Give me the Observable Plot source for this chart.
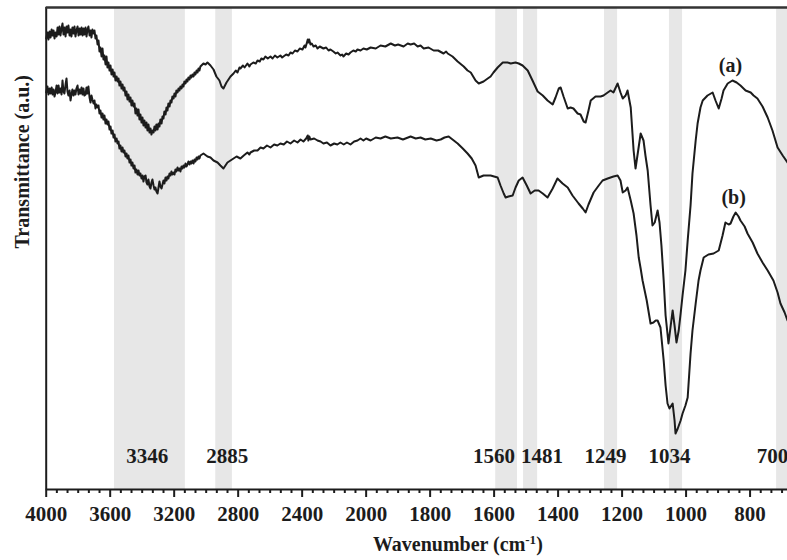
<!DOCTYPE html>
<html>
<head>
<meta charset="utf-8">
<script src="https://cdn.jsdelivr.net/npm/d3@7"></script>
<script src="https://cdn.jsdelivr.net/npm/@observablehq/plot@0.6"></script>
<style>
  html, body { margin: 0; padding: 0; background: #fff; }
</style>
</head>
<body>
<div id="chart"></div>
<script>
// FTIR spectra, [wavenumber (cm-1), transmittance (a.u.)]
const spectrumA = [
  [4000,90.2],[3992,91.4],[3986,90.0],[3979,91.6],[3973,90.4],[3966,92.0],[3960,90.8],[3954,91.8],
  [3948,90.2],[3942,91.4],[3935,90.6],[3929,92.4],[3923,91.0],[3917,92.6],[3911,90.8],[3904,92.2],
  [3898,93.2],[3892,91.0],[3886,92.4],[3879,90.6],[3873,92.6],[3867,91.4],[3861,92.8],[3854,90.8],
  [3848,92.0],[3842,90.6],[3836,92.4],[3829,91.2],[3823,92.6],[3817,90.6],[3811,91.8],[3804,92.6],
  [3798,90.8],[3792,92.2],[3786,91.0],[3779,92.4],[3773,90.8],[3767,92.2],[3761,91.0],[3754,92.4],
  [3748,90.6],[3742,92.0],[3736,92.6],[3729,90.8],[3723,91.8],[3717,90.4],[3711,92.0],[3704,91.2],
  [3698,91.8],[3692,90.2],[3686,90.8],[3679,89.0],[3673,89.8],[3667,87.6],[3661,88.4],[3654,86.6],
  [3648,88.2],[3642,86.0],[3636,86.8],[3629,85.0],[3623,86.6],[3617,84.4],[3611,85.4],[3604,83.8],
  [3598,84.8],[3592,83.0],[3585,84.0],[3579,82.6],[3573,83.4],[3567,81.8],[3560,82.6],[3554,81.6],
  [3548,82.2],[3542,80.8],[3536,81.6],[3529,80.2],[3523,81.0],[3517,79.8],[3511,80.4],[3504,78.8],
  [3498,79.6],[3492,78.0],[3486,79.0],[3479,77.6],[3473,78.4],[3467,76.8],[3461,77.8],[3454,76.6],
  [3448,77.2],[3442,75.2],[3436,76.2],[3429,74.8],[3423,76.0],[3417,74.0],[3411,75.0],[3404,73.4],
  [3398,74.4],[3392,72.8],[3386,73.8],[3379,72.4],[3373,73.4],[3367,71.8],[3361,73.0],[3354,71.4],
  [3348,72.2],[3342,71.0],[3336,71.8],[3329,71.4],[3323,72.6],[3317,71.8],[3311,73.0],[3304,72.0],
  [3298,73.2],[3292,72.6],[3286,74.0],[3279,73.2],[3273,74.6],[3267,74.2],[3261,75.6],[3254,75.0],
  [3248,76.4],[3242,75.8],[3236,77.2],[3229,76.6],[3223,77.8],[3217,77.4],[3211,78.6],[3204,78.2],
  [3198,79.2],[3192,78.6],[3186,79.8],[3179,79.4],[3173,80.2],[3167,79.8],[3161,80.6],[3154,80.2],
  [3148,81.0],[3142,80.6],[3136,81.6],[3129,81.2],[3123,82.0],[3117,81.6],[3111,82.4],[3104,82.0],
  [3098,82.8],[3092,82.4],[3086,83.0],[3079,82.6],[3073,83.4],[3067,83.0],[3060,83.8],[3054,83.4],
  [3048,84.2],[3042,83.8],[3036,84.6],[3017,85.2],[3004,85.0],[2992,85.4],[2973,84.8],[2954,84.0],
  [2936,82.6],[2917,81.8],[2904,80.6],[2892,80.2],[2873,81.4],[2848,82.6],[2829,83.2],[2815,83.8],
  [2804,83.4],[2792,84.4],[2786,84.2],[2770,84.8],[2760,84.4],[2742,85.2],[2730,84.6],[2723,85.0],
  [2705,85.4],[2690,85.2],[2679,85.8],[2665,85.6],[2655,86.2],[2642,86.0],[2630,86.6],[2615,86.2],
  [2598,86.6],[2585,86.2],[2570,86.8],[2555,86.4],[2536,86.8],[2525,86.4],[2517,86.6],[2500,87.0],
  [2485,86.8],[2473,87.4],[2460,87.2],[2445,87.8],[2429,87.6],[2415,88.2],[2398,88.0],[2385,88.8],
  [2379,88.4],[2370,89.4],[2365,90.0],[2361,89.4],[2356,90.0],[2348,89.0],[2340,89.2],[2329,88.6],
  [2315,88.8],[2304,88.2],[2290,88.6],[2267,88.2],[2250,88.4],[2235,87.8],[2223,88.0],[2205,87.6],
  [2190,87.2],[2179,87.4],[2160,86.8],[2150,87.0],[2142,86.6],[2125,87.2],[2110,87.0],[2098,87.4],
  [2080,87.8],[2065,87.6],[2054,88.0],[2035,87.8],[2017,88.2],[1998,88.0],[1986,88.4],[1970,88.2],
  [1955,88.8],[1940,88.6],[1923,89.2],[1910,88.8],[1900,89.0],[1883,88.6],[1870,89.2],[1861,89.0],
  [1850,89.2],[1839,88.6],[1830,88.8],[1820,88.2],[1805,88.4],[1789,87.8],[1775,87.8],[1758,87.2],
  [1750,87.6],[1745,87.2],[1730,86.6],[1714,85.6],[1695,84.6],[1683,83.8],[1673,83.4],[1658,81.8],
  [1648,81.2],[1633,81.6],[1620,82.2],[1611,82.6],[1602,83.4],[1589,84.4],[1573,85.4],[1558,85.4],
  [1548,85.2],[1533,85.4],[1523,85.2],[1511,84.8],[1495,83.8],[1480,81.8],[1464,79.6],[1448,78.8],
  [1433,77.8],[1417,77.0],[1408,78.4],[1398,80.2],[1392,80.4],[1383,78.6],[1370,76.2],[1361,76.4],
  [1352,76.2],[1339,75.2],[1330,75.0],[1320,73.6],[1314,73.4],[1305,75.8],[1298,77.8],[1283,78.6],
  [1267,78.6],[1258,78.8],[1245,79.4],[1236,79.8],[1227,79.4],[1214,81.2],[1205,79.4],[1198,78.2],
  [1189,78.8],[1183,79.8],[1173,76.4],[1164,67.8],[1158,64.2],[1152,66.8],[1142,71.2],[1133,69.8],
  [1127,66.8],[1120,63.8],[1111,56.8],[1105,52.8],[1098,53.4],[1089,55.8],[1083,53.4],[1077,48.8],
  [1070,41.8],[1064,34.8],[1055,29.2],[1048,32.8],[1042,35.8],[1036,32.8],[1030,29.4],[1023,31.8],
  [1017,35.2],[1011,38.8],[1002,43.8],[995,49.8],[986,56.8],[980,63.2],[970,69.8],[964,73.2],
  [955,76.4],[948,77.8],[933,78.8],[917,79.4],[908,77.8],[898,76.2],[889,78.2],[883,79.8],
  [870,81.2],[855,81.8],[842,81.4],[830,80.8],[814,79.8],[798,79.4],[789,78.8],[777,78.2],
  [761,76.6],[745,74.4],[730,71.8],[714,68.4],[698,66.8],[683,65.4]
];

const spectrumB = [
  [4000,79.4],[3992,80.6],[3986,79.0],[3979,80.2],[3973,79.2],[3966,80.4],[3960,79.0],[3954,80.0],
  [3948,78.6],[3942,79.4],[3935,80.8],[3929,79.2],[3923,80.8],[3917,79.4],[3911,80.2],[3904,79.0],
  [3898,81.8],[3892,79.6],[3886,79.2],[3879,81.0],[3873,82.2],[3867,79.6],[3861,78.8],[3854,79.8],
  [3848,77.8],[3842,79.0],[3836,80.0],[3829,78.8],[3823,79.8],[3817,79.0],[3811,80.2],[3804,80.8],
  [3798,79.0],[3792,80.0],[3786,79.2],[3779,80.4],[3773,79.0],[3767,80.2],[3761,78.8],[3754,79.0],
  [3748,80.4],[3742,79.2],[3736,80.6],[3729,78.4],[3723,77.4],[3717,78.8],[3711,78.0],[3704,77.2],
  [3698,77.8],[3692,76.2],[3686,77.0],[3679,76.4],[3673,76.8],[3667,75.2],[3661,75.8],[3654,74.4],
  [3648,75.2],[3642,74.0],[3636,74.8],[3629,73.2],[3623,74.0],[3617,73.0],[3611,73.6],[3604,72.0],
  [3598,72.6],[3592,71.2],[3585,71.8],[3579,70.4],[3573,71.0],[3567,69.6],[3560,70.2],[3554,69.2],
  [3548,69.6],[3542,68.2],[3536,68.8],[3529,67.6],[3523,68.4],[3517,67.4],[3511,67.8],[3504,66.6],
  [3498,67.2],[3492,66.2],[3486,66.8],[3479,65.4],[3473,66.0],[3467,64.8],[3461,65.4],[3454,64.2],
  [3448,64.8],[3442,63.4],[3436,64.0],[3429,63.0],[3423,63.8],[3417,62.8],[3411,63.2],[3404,62.2],
  [3398,62.8],[3392,61.6],[3386,62.6],[3379,62.8],[3373,61.4],[3367,61.0],[3361,62.0],[3354,60.6],
  [3348,60.2],[3342,61.4],[3336,62.0],[3329,60.8],[3323,60.0],[3317,60.4],[3311,59.6],[3304,59.2],
  [3298,60.4],[3292,61.6],[3286,60.6],[3279,60.2],[3273,61.0],[3267,61.8],[3261,61.2],[3254,62.4],
  [3248,61.8],[3242,62.6],[3236,62.2],[3229,63.2],[3223,62.8],[3217,63.6],[3211,63.0],[3204,63.4],
  [3198,63.0],[3192,64.0],[3186,63.6],[3179,64.4],[3173,63.8],[3167,64.2],[3161,63.6],[3154,64.6],
  [3148,64.2],[3142,64.8],[3136,64.4],[3129,65.2],[3123,64.6],[3117,65.0],[3111,65.6],[3104,65.0],
  [3098,65.6],[3092,65.2],[3086,65.8],[3079,65.2],[3073,66.0],[3067,65.6],[3060,66.4],[3054,66.0],
  [3048,66.6],[3042,66.2],[3036,66.8],[3017,67.2],[2992,66.6],[2973,66.4],[2954,65.8],[2929,65.4],
  [2911,64.8],[2892,64.2],[2867,65.4],[2848,65.8],[2829,66.2],[2810,66.6],[2786,66.2],[2765,66.8],
  [2742,67.4],[2730,67.0],[2723,67.4],[2700,67.8],[2679,67.8],[2660,68.4],[2642,68.2],[2620,68.8],
  [2598,68.4],[2575,69.0],[2555,68.8],[2536,69.2],[2515,69.0],[2495,69.6],[2473,69.2],[2450,69.8],
  [2429,69.4],[2410,70.0],[2392,69.6],[2375,70.2],[2365,70.8],[2361,69.8],[2355,70.6],[2348,70.0],
  [2325,70.2],[2304,69.8],[2285,69.6],[2267,69.2],[2245,69.4],[2223,68.8],[2200,69.2],[2180,69.0],
  [2161,69.4],[2140,69.0],[2120,69.4],[2098,69.0],[2075,69.6],[2054,69.8],[2035,70.2],[2017,69.8],
  [2000,70.2],[1986,69.8],[1970,70.4],[1955,70.2],[1940,70.6],[1923,70.2],[1902,70.4],[1885,70.0],
  [1861,70.6],[1845,70.2],[1830,70.4],[1815,70.0],[1798,70.2],[1780,69.8],[1767,70.0],[1755,70.4],
  [1742,70.6],[1730,70.0],[1714,69.2],[1698,68.2],[1683,67.2],[1670,66.2],[1658,64.8],[1648,62.4],
  [1633,62.8],[1611,62.8],[1589,62.4],[1580,60.8],[1570,59.2],[1564,58.4],[1555,58.6],[1542,58.8],
  [1533,60.4],[1523,61.8],[1511,62.4],[1498,60.8],[1486,59.2],[1473,59.8],[1461,59.8],[1448,59.2],
  [1433,58.4],[1417,60.2],[1402,62.2],[1386,61.2],[1370,60.4],[1355,58.8],[1336,57.2],[1323,56.2],
  [1314,55.4],[1305,57.0],[1289,59.4],[1273,60.8],[1261,61.8],[1245,62.2],[1236,62.4],[1227,62.6],
  [1214,62.8],[1205,61.8],[1198,59.4],[1189,59.8],[1183,60.4],[1173,57.8],[1164,55.2],[1155,50.8],
  [1148,46.4],[1142,44.2],[1136,41.8],[1123,37.8],[1111,33.2],[1102,33.4],[1095,33.8],[1089,33.8],
  [1080,32.4],[1070,25.8],[1064,20.8],[1058,17.2],[1052,16.2],[1042,17.2],[1036,13.8],[1033,11.2],
  [1026,12.2],[1017,13.8],[1011,15.2],[1002,16.8],[995,18.4],[986,27.2],[980,31.8],[970,37.2],
  [961,41.8],[955,43.8],[945,46.4],[930,47.0],[914,47.2],[898,47.8],[886,50.8],[877,53.4],
  [867,53.0],[861,53.2],[852,54.6],[845,55.4],[836,54.6],[830,53.8],[817,52.6],[808,51.2],
  [792,49.4],[777,47.2],[761,45.4],[745,43.8],[727,41.8],[714,39.4],[705,37.2],[692,35.4],
  [683,33.8]
];

// Assigned absorption bands (cm-1)
const bandNames = ["3346", "2885", "1560", "1481", "1249", "1034", "700"];
const bandStart = [3573, 2940, 1595, 1508, 1255, 1052, 717];
const bandEnd   = [3130, 2836, 1527, 1464, 1214, 1011, 683];
const bandLabelAt = [3369, 2869, 1600, 1450, 1252, 1052, 730];

// Axis ticks; the axis doubles its stretch below 2000 cm-1
const majorTicks = [4000, 3600, 3200, 2800, 2400, 2000, 1800, 1600, 1400, 1200, 1000, 800];
const seriesNames = ["(a)", "(b)"];
const xTitle = "Wavenumber (cm-1)";
const yTitle = "Transmittance (a.u.)";

const BREAK = 2000, START = 4000, END = 683;
// wavenumber -> axis position (units of cm-1 above the break, half cm-1 below it)
const toAxis = v => (v >= BREAK ? START - v : (START - BREAK) + (BREAK - v) * 2);
const fromAxis = u => (u <= START - BREAK ? START - u : BREAK - (u - (START - BREAK)) / 2);

const minorTicks = [];
for (let i = 0; i < majorTicks.length - 1; i++) {
  const a = majorTicks[i], b = majorTicks[i + 1];
  for (let k = 1; k < 6; k++) minorTicks.push(a + (b - a) * k / 6);
}
for (let k = 1; k <= 3; k++) minorTicks.push(800 - 200 * k / 6);

const bands = bandNames.map((name, i) => ({name, from: bandStart[i], to: bandEnd[i], at: bandLabelAt[i]}));

const peakNear = (s) => s.filter(d => d[0] > 820 && d[0] < 900).reduce((m, d) => (d[1] > m[1] ? d : m));
const seriesLabels = [
  {label: seriesNames[0], p: peakNear(spectrumA)},
  {label: seriesNames[1], p: peakNear(spectrumB)}
];

const ink = "#1c1c1c";

const chart = Plot.plot({
  width: 787,
  height: 560,
  marginLeft: 45.7,
  marginRight: 0,
  marginTop: 7,
  marginBottom: 71,
  style: {
    fontFamily: "'Liberation Serif', 'Times New Roman', serif",
    fontWeight: "bold",
    fontSize: "21px",
    color: ink,
    background: "#fff",
    overflow: "hidden"
  },
  x: {type: "linear", domain: [toAxis(START), toAxis(END)]},
  y: {domain: [0, 96.4], axis: null},
  marks: [
    Plot.rect(bands, {x1: d => toAxis(d.from), x2: d => toAxis(d.to), fill: "#e7e7e7"}),
    Plot.text(bands, {x: d => toAxis(d.at), text: "name", frameAnchor: "bottom", dy: -27, fontSize: 21, fill: ink}),
    Plot.line(spectrumA, {x: d => toAxis(d[0]), y: d => d[1], stroke: ink, strokeWidth: 2}),
    Plot.line(spectrumB, {x: d => toAxis(d[0]), y: d => d[1], stroke: ink, strokeWidth: 2}),
    Plot.text(seriesLabels, {x: d => toAxis(d.p[0]), y: d => d.p[1], text: "label", dy: -15, dx: -2, fontSize: 20, fill: ink}),
    Plot.ruleX([toAxis(START)], {stroke: ink, strokeWidth: 2}),
    Plot.ruleY([96.4], {stroke: "#333", strokeWidth: 2.5}),
    Plot.ruleY([0], {stroke: ink, strokeWidth: 2}),
    Plot.axisX({ticks: minorTicks.map(toAxis), tickSize: 4, tickFormat: () => "", strokeWidth: 2, stroke: ink, label: null}),
    Plot.axisX({ticks: majorTicks.map(toAxis), tickSize: 8, tickPadding: 9, tickFormat: u => String(Math.round(fromAxis(u))), strokeWidth: 2, stroke: ink, fill: ink, label: null}),
    Plot.text([yTitle], {frameAnchor: "left", rotate: -90, dx: -24, fontSize: 20, fill: ink}),
    Plot.text([xTitle], {frameAnchor: "bottom", dx: 41, dy: 61, fontSize: 20, fill: ink})
  ]
});

// superscript for the unit in the x title
chart.querySelectorAll("text").forEach(t => {
  if (t.textContent === xTitle) {
    t.textContent = "";
    const ns = "http://www.w3.org/2000/svg";
    const a = document.createElementNS(ns, "tspan");
    a.textContent = "Wavenumber (cm";
    const sup = document.createElementNS(ns, "tspan");
    sup.textContent = "-1";
    sup.setAttribute("font-size", "13");
    sup.setAttribute("dy", "-7");
    const c = document.createElementNS(ns, "tspan");
    c.textContent = ")";
    c.setAttribute("dy", "7");
    t.append(a, sup, c);
  }
});

document.getElementById("chart").appendChild(chart);
</script>
</body>
</html>
